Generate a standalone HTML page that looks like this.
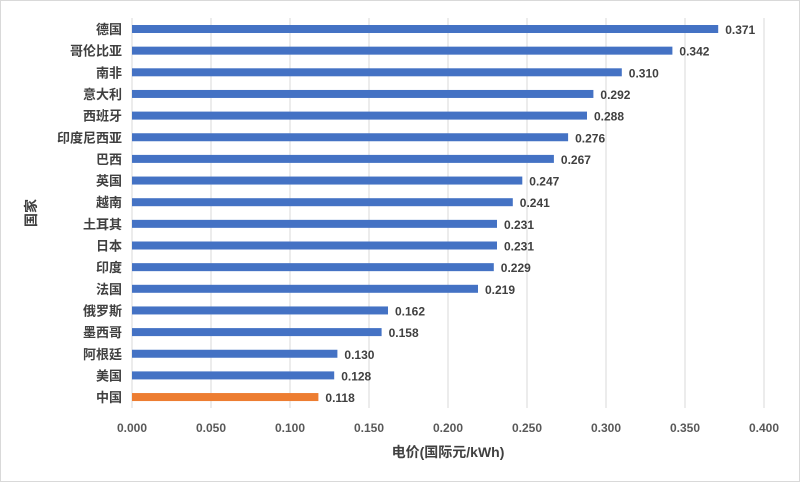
<!DOCTYPE html>
<html><head><meta charset="utf-8"><style>
body{margin:0;background:#fff;}
svg{display:block;font-family:"Liberation Sans","Noto Sans CJK SC",sans-serif;}
</style></head><body>
<svg width="800" height="482" viewBox="0 0 800 482">
<rect x="0.5" y="0.5" width="799" height="481" fill="#fff" stroke="#d9d9d9"/>
<g stroke="#d9d9d9" stroke-width="1">
<line x1="211" y1="18" x2="211" y2="408"/>
<line x1="290" y1="18" x2="290" y2="408"/>
<line x1="369" y1="18" x2="369" y2="408"/>
<line x1="448" y1="18" x2="448" y2="408"/>
<line x1="527" y1="18" x2="527" y2="408"/>
<line x1="606" y1="18" x2="606" y2="408"/>
<line x1="685" y1="18" x2="685" y2="408"/>
<line x1="764" y1="18" x2="764" y2="408"/>
<line x1="132" y1="18" x2="132" y2="408"/>
</g>
<g fill="#4472c4">
<rect x="132" y="25" width="586.2" height="8"/>
<rect x="132" y="46.65" width="540.4" height="8"/>
<rect x="132" y="68.3" width="489.8" height="8"/>
<rect x="132" y="89.95" width="461.4" height="8"/>
<rect x="132" y="111.6" width="455" height="8"/>
<rect x="132" y="133.25" width="436.1" height="8"/>
<rect x="132" y="154.9" width="421.9" height="8"/>
<rect x="132" y="176.55" width="390.3" height="8"/>
<rect x="132" y="198.2" width="380.8" height="8"/>
<rect x="132" y="219.85" width="365" height="8"/>
<rect x="132" y="241.5" width="365" height="8"/>
<rect x="132" y="263.15" width="361.8" height="8"/>
<rect x="132" y="284.8" width="346" height="8"/>
<rect x="132" y="306.45" width="256" height="8"/>
<rect x="132" y="328.1" width="249.6" height="8"/>
<rect x="132" y="349.75" width="205.4" height="8"/>
<rect x="132" y="371.4" width="202.2" height="8"/>
<rect x="132" y="393.05" width="186.4" height="8" fill="#ed7d31"/>
</g>
<g font-size="13" font-weight="bold" fill="#404040" text-anchor="end">
<text x="122" y="34">德国</text>
<text x="122" y="55.65">哥伦比亚</text>
<text x="122" y="77.3">南非</text>
<text x="122" y="98.95">意大利</text>
<text x="122" y="120.6">西班牙</text>
<text x="122" y="142.25">印度尼西亚</text>
<text x="122" y="163.9">巴西</text>
<text x="122" y="185.55">英国</text>
<text x="122" y="207.2">越南</text>
<text x="122" y="228.85">土耳其</text>
<text x="122" y="250.5">日本</text>
<text x="122" y="272.15">印度</text>
<text x="122" y="293.8">法国</text>
<text x="122" y="315.45">俄罗斯</text>
<text x="122" y="337.1">墨西哥</text>
<text x="122" y="358.75">阿根廷</text>
<text x="122" y="380.4">美国</text>
<text x="122" y="402.05">中国</text>
</g>
<g font-size="12" font-weight="bold" fill="#404040">
<text x="725.2" y="34">0.371</text>
<text x="679.4" y="55.65">0.342</text>
<text x="628.8" y="77.3">0.310</text>
<text x="600.4" y="98.95">0.292</text>
<text x="594" y="120.6">0.288</text>
<text x="575.1" y="142.25">0.276</text>
<text x="560.9" y="163.9">0.267</text>
<text x="529.3" y="185.55">0.247</text>
<text x="519.8" y="207.2">0.241</text>
<text x="504" y="228.85">0.231</text>
<text x="504" y="250.5">0.231</text>
<text x="500.8" y="272.15">0.229</text>
<text x="485" y="293.8">0.219</text>
<text x="395" y="315.45">0.162</text>
<text x="388.6" y="337.1">0.158</text>
<text x="344.4" y="358.75">0.130</text>
<text x="341.2" y="380.4">0.128</text>
<text x="325.4" y="402.05">0.118</text>
</g>
<g font-size="12" fill="#595959" font-weight="bold" text-anchor="middle">
<text x="132" y="432">0.000</text><text x="211" y="432">0.050</text><text x="290" y="432">0.100</text><text x="369" y="432">0.150</text><text x="448" y="432">0.200</text><text x="527" y="432">0.250</text><text x="606" y="432">0.300</text><text x="685" y="432">0.350</text><text x="764" y="432">0.400</text>
</g>
<text x="448" y="457" font-size="14" fill="#404040" font-weight="bold" text-anchor="middle">电价(国际元/kWh)</text>
<text transform="translate(36,213) rotate(-90)" font-size="14" fill="#404040" font-weight="bold" text-anchor="middle">国家</text>
</svg>
</body></html>
